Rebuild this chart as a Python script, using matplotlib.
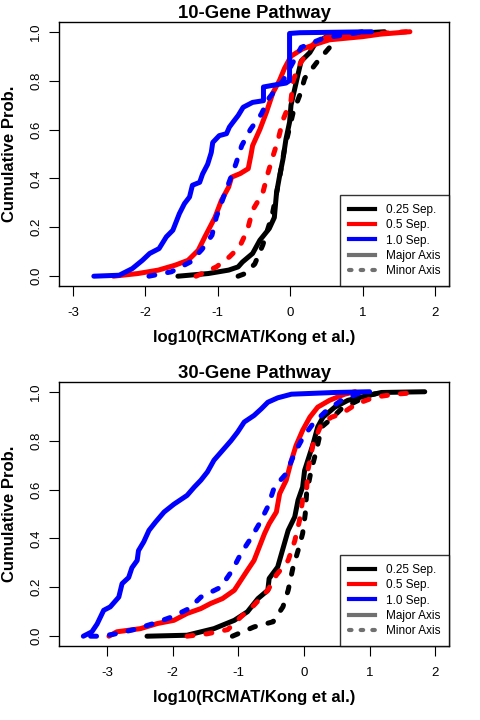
import matplotlib
matplotlib.use("Agg")
import matplotlib.pyplot as plt
from matplotlib.lines import Line2D

plt.rcParams['font.family'] = ['Liberation Sans', 'DejaVu Sans']
plt.rcParams['axes.unicode_minus'] = False

# ---- data: (x, cumulative prob) along each curve ----
# 10-gene pathway
g10_025_maj_x = [-1.55, -1.13, -0.85, -0.72, -0.66, -0.52, -0.42, -0.29, -0.22, -0.19, -0.15, -0.10, -0.06, -0.01, 0.01, 0.06, 0.11, 0.15, 0.27, 0.34, 0.50, 1.0, 1.30]
g10_025_maj_y = [0.0, 0.011, 0.025, 0.038, 0.058, 0.093, 0.147, 0.195, 0.24, 0.34, 0.406, 0.48, 0.56, 0.63, 0.70, 0.765, 0.83, 0.88, 0.915, 0.95, 0.98, 0.995, 1.0]
g10_025_min_x = [-0.72, -0.63, -0.49, -0.38, -0.25, -0.15, -0.08, 0.0, 0.04, 0.13, 0.20, 0.38, 0.54, 0.64, 0.80, 1.0]
g10_025_min_y = [0.0, 0.01, 0.05, 0.127, 0.25, 0.40, 0.52, 0.62, 0.67, 0.74, 0.81, 0.88, 0.935, 0.97, 0.99, 1.0]
g10_05_maj_x = [-2.44, -2.10, -1.82, -1.59, -1.41, -1.27, -1.18, -1.11, -1.04, -0.95, -0.85, -0.81, -0.69, -0.58, -0.54, -0.52, -0.42, -0.33, -0.24, -0.15, -0.08, 0.01, 0.17, 0.36, 0.54, 1.0, 1.24, 1.65]
g10_05_maj_y = [0.0, 0.011, 0.025, 0.045, 0.065, 0.106, 0.16, 0.20, 0.24, 0.31, 0.365, 0.405, 0.42, 0.44, 0.50, 0.534, 0.60, 0.67, 0.75, 0.80, 0.85, 0.90, 0.93, 0.95, 0.967, 0.98, 0.99, 1.0]
g10_05_min_x = [-1.30, -1.02, -0.84, -0.70, -0.59, -0.52, -0.38, -0.31, -0.24, -0.17, -0.10, 0.01, 0.04, 0.11, 0.22, 0.36, 0.54, 1.05, 1.60]
g10_05_min_y = [0.0, 0.038, 0.079, 0.12, 0.19, 0.27, 0.34, 0.42, 0.49, 0.556, 0.64, 0.72, 0.80, 0.856, 0.91, 0.965, 0.98, 0.99, 1.0]
g10_10_maj_x = [-2.71, -2.36, -2.18, -2.04, -1.94, -1.81, -1.71, -1.62, -1.53, -1.46, -1.39, -1.35, -1.25, -1.21, -1.14, -1.09, -1.07, -0.98, -0.88, -0.84, -0.79, -0.72, -0.65, -0.52, -0.37, -0.37, -0.24, -0.06, -0.01, -0.01, 0.13, 1.12]
g10_10_maj_y = [0.0, 0.004, 0.031, 0.065, 0.093, 0.113, 0.161, 0.188, 0.256, 0.297, 0.324, 0.372, 0.384, 0.418, 0.458, 0.506, 0.547, 0.575, 0.583, 0.61, 0.63, 0.657, 0.691, 0.711, 0.718, 0.774, 0.781, 0.79, 0.80, 0.993, 0.996, 1.0]
g10_10_min_x = [-1.95, -1.64, -1.38, -1.22, -1.08, -1.02, -0.92, -0.75, -0.67, -0.55, -0.40, -0.29, -0.10, 0.15, 0.45, 0.80, 1.0]
g10_10_min_y = [0.0, 0.018, 0.058, 0.109, 0.168, 0.242, 0.324, 0.46, 0.534, 0.60, 0.663, 0.73, 0.80, 0.936, 0.973, 0.99, 1.0]

# 30-gene pathway
g30_025_maj_x = [-2.39, -1.78, -1.37, -1.06, -0.86, -0.70, -0.55, -0.53, -0.40, -0.32, -0.24, -0.14, -0.09, -0.02, 0.01, 0.06, 0.14, 0.21, 0.29, 0.47, 0.67, 0.98, 1.18, 1.84]
g30_025_maj_y = [0.0, 0.004, 0.031, 0.065, 0.10, 0.154, 0.188, 0.236, 0.283, 0.358, 0.433, 0.488, 0.556, 0.61, 0.678, 0.72, 0.787, 0.856, 0.896, 0.937, 0.965, 0.985, 0.997, 1.0]
g30_025_min_x = [-1.09, -0.76, -0.47, -0.32, -0.24, -0.17, -0.09, -0.02, 0.02, 0.04, 0.11, 0.19, 0.27, 0.42, 0.57, 0.98, 1.18]
g30_025_min_y = [0.0, 0.038, 0.059, 0.12, 0.188, 0.277, 0.35, 0.42, 0.50, 0.583, 0.678, 0.76, 0.856, 0.89, 0.93, 0.985, 0.997]
g30_05_maj_x = [-2.97, -2.85, -2.49, -2.23, -1.98, -1.78, -1.57, -1.42, -1.24, -1.06, -0.96, -0.86, -0.76, -0.68, -0.60, -0.53, -0.42, -0.37, -0.27, -0.19, -0.12, -0.02, 0.09, 0.21, 0.39, 0.62, 0.78]
g30_05_maj_y = [0.0, 0.018, 0.031, 0.052, 0.065, 0.093, 0.113, 0.134, 0.154, 0.188, 0.229, 0.27, 0.31, 0.365, 0.42, 0.46, 0.508, 0.583, 0.638, 0.72, 0.78, 0.842, 0.896, 0.937, 0.965, 0.99, 1.0]
g30_05_min_x = [-1.78, -1.47, -1.16, -0.96, -0.76, -0.55, -0.42, -0.24, -0.14, -0.07, -0.02, 0.04, 0.06, 0.14, 0.27, 0.42, 0.57, 0.80, 1.08, 1.39, 1.69]
g30_05_min_y = [0.0, 0.01, 0.027, 0.079, 0.127, 0.188, 0.25, 0.31, 0.39, 0.47, 0.556, 0.597, 0.678, 0.787, 0.87, 0.896, 0.91, 0.95, 0.978, 0.99, 0.996]
g30_10_maj_x = [-3.36, -3.23, -3.15, -3.05, -2.95, -2.82, -2.77, -2.67, -2.62, -2.54, -2.52, -2.44, -2.36, -2.26, -2.13, -1.98, -1.78, -1.67, -1.57, -1.47, -1.37, -1.24, -1.11, -1.01, -0.91, -0.76, -0.65, -0.55, -0.40, -0.19, 0.47, 1.0]
g30_10_maj_y = [0.0, 0.018, 0.05, 0.106, 0.12, 0.16, 0.215, 0.24, 0.28, 0.31, 0.35, 0.386, 0.433, 0.467, 0.508, 0.54, 0.576, 0.61, 0.638, 0.672, 0.72, 0.76, 0.80, 0.835, 0.876, 0.903, 0.93, 0.957, 0.975, 0.99, 0.997, 1.0]
g30_10_min_x = [-3.25, -3.10, -2.90, -2.59, -2.29, -2.01, -1.75, -1.57, -1.27, -1.09, -0.96, -0.81, -0.68, -0.55, -0.45, -0.27, -0.14, -0.02, 0.14, 0.32, 0.57, 0.90]
g30_10_min_y = [0.0, 0.0, 0.008, 0.027, 0.052, 0.079, 0.113, 0.16, 0.20, 0.27, 0.338, 0.40, 0.46, 0.53, 0.61, 0.665, 0.75, 0.81, 0.87, 0.917, 0.965, 1.0]

seps = ["0.25 Sep.", "0.5 Sep.", "1.0 Sep."]
colors = ["black", "red", "blue"]

panels = [
    ("10-Gene Pathway", (-3.19, 2.19),
     [(g10_025_maj_x, g10_025_maj_y, g10_025_min_x, g10_025_min_y),
      (g10_05_maj_x, g10_05_maj_y, g10_05_min_x, g10_05_min_y),
      (g10_10_maj_x, g10_10_maj_y, g10_10_min_x, g10_10_min_y)]),
    ("30-Gene Pathway", (-3.73, 2.21),
     [(g30_025_maj_x, g30_025_maj_y, g30_025_min_x, g30_025_min_y),
      (g30_05_maj_x, g30_05_maj_y, g30_05_min_x, g30_05_min_y),
      (g30_10_maj_x, g30_10_maj_y, g30_10_min_x, g30_10_min_y)]),
]

LW = 3.6
DASH = (0, (1.2, 2.6))

fig = plt.figure(figsize=(4.8, 7.2), dpi=100)
bottoms = [0.6028, 0.1028]

for (title, xlim, curves), b in zip(panels, bottoms):
    ax = fig.add_axes([0.123, b, 0.8125, 0.3667])
    for (mx, my, nx, ny), c in zip(curves, colors):
        ax.plot(nx, ny, color=c, lw=LW, linestyle=DASH, dash_capstyle='round')
        ax.plot(mx, my, color=c, lw=LW, solid_capstyle='round', solid_joinstyle='round')
    ax.set_xlim(*xlim)
    ax.set_ylim(-0.04, 1.04)
    ax.set_xticks([-3, -2, -1, 0, 1, 2])
    ax.set_yticks([0.0, 0.2, 0.4, 0.6, 0.8, 1.0])
    ax.set_yticklabels(["0.0", "0.2", "0.4", "0.6", "0.8", "1.0"], rotation=90, va='center')
    ax.tick_params(direction='out', length=7, width=0.8, labelsize=9.5)
    ax.tick_params(axis='x', pad=8)
    ax.tick_params(axis='y', pad=5)
    for s in ax.spines.values():
        s.set_linewidth(1.0)
    ax.set_title(title, fontsize=13.3, fontweight='bold', pad=3)
    ax.set_xlabel("log10(RCMAT/Kong et al.)", fontsize=12, fontweight='bold')
    ax.set_ylabel("Cumulative Prob.", fontsize=12, fontweight='bold')
    ax.xaxis.set_label_coords(0.5, -0.167)
    ax.yaxis.set_label_coords(-0.108, 0.5)

    handles = [Line2D([], [], color=c, lw=3) for c in colors]
    handles.append(Line2D([], [], color='#707070', lw=3))
    handles.append(Line2D([], [], color='#707070', lw=3, linestyle=(0, (0.6, 2.2)), dash_capstyle='round'))
    leg = ax.legend(handles, seps + ["Major Axis", "Minor Axis"], loc='lower right',
                    fontsize=8.5, frameon=True, fancybox=False, borderaxespad=0,
                    handlelength=2.2, handletextpad=0.9, labelspacing=0.28,
                    borderpad=0.75)
    leg.get_frame().set_edgecolor('black')
    leg.get_frame().set_linewidth(1.0)

fig.savefig("out.png", dpi=100)
